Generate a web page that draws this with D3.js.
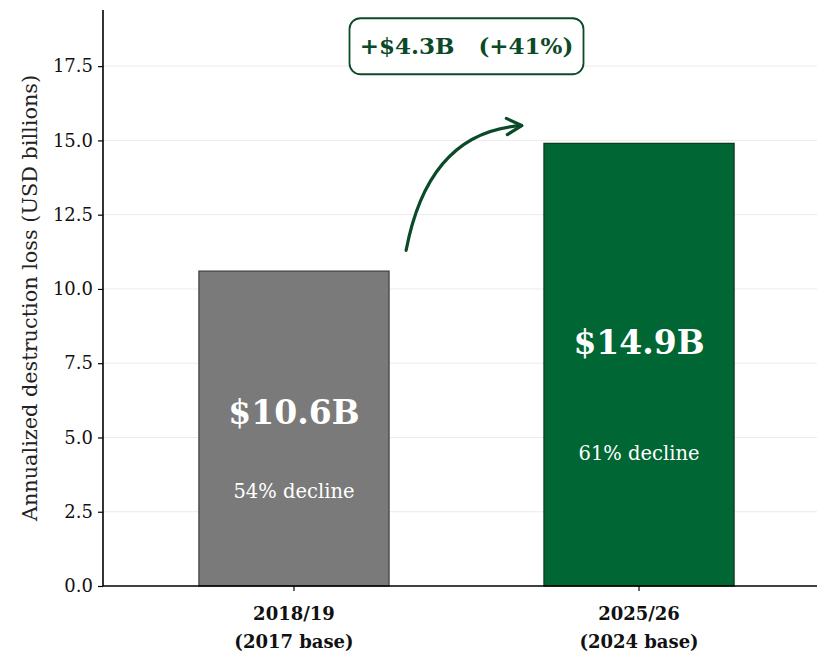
<!DOCTYPE html>
<html lang="en">
<head>
  <meta charset="UTF-8">
  <title>Annualized destruction loss</title>
  <script src="https://d3js.org/d3.v7.min.js"></script>
  <style>
    body { margin: 0; background: #fff; }
    text { font-family: "DejaVu Serif", "Liberation Serif", serif; }
  </style>
</head>
<body>
<script>
  // data
  const periods = ["2018/19", "2025/26"];
  const bases = ["(2017 base)", "(2024 base)"];
  const losses = [10.6, 14.9];
  const valueLabels = ["$10.6B", "$14.9B"];
  const declineLabels = ["54% decline", "61% decline"];
  const yTicks = [0, 2.5, 5, 7.5, 10, 12.5, 15, 17.5];
  const changeLabel = "+$4.3B   (+41%)";

  const width = 817, height = 653;
  const margin = { top: 10, right: -13, bottom: 67, left: 103 };

  const svg = d3.select("body").append("svg")
    .attr("width", width)
    .attr("height", height);

  const x = d3.scaleBand()
    .domain(periods)
    .range([margin.left, width - margin.right])
    .paddingInner(0.449)
    .paddingOuter(0.278);

  // index scale for annotations placed between the bars
  const xi = d3.scaleLinear()
    .domain([0, 1])
    .range([x(periods[0]) + x.bandwidth() / 2, x(periods[1]) + x.bandwidth() / 2]);

  const y = d3.scaleLinear()
    .domain([0, 19.39])
    .range([height - margin.bottom, margin.top]);

  // gridlines
  svg.append("g")
    .selectAll("line")
    .data(yTicks.slice(1))
    .enter().append("line")
    .attr("x1", margin.left)
    .attr("x2", width)
    .attr("y1", d => y(d))
    .attr("y2", d => y(d))
    .style("stroke", "#ebebeb")
    .style("stroke-width", 1);

  // bars
  svg.selectAll("rect.bar")
    .data(losses)
    .enter().append("rect")
    .attr("class", "bar")
    .attr("x", (d, i) => x(periods[i]))
    .attr("y", d => y(d))
    .attr("width", x.bandwidth())
    .attr("height", d => y(0) - y(d))
    .style("fill", (d, i) => i === 0 ? "#7a7a7a" : "#006633")
    .style("stroke", (d, i) => i === 0 ? "#444444" : "#0d3d20")
    .style("stroke-width", 1.3);

  // labels inside bars
  svg.selectAll("text.val")
    .data(losses)
    .enter().append("text")
    .attr("class", "val")
    .attr("x", (d, i) => x(periods[i]) + x.bandwidth() / 2)
    .attr("y", d => y(d * 0.55))
    .attr("dy", "0.35em")
    .attr("text-anchor", "middle")
    .style("font-size", "33px")
    .style("font-weight", "bold")
    .style("fill", "#fff")
    .text((d, i) => valueLabels[i]);

  svg.selectAll("text.dec")
    .data(losses)
    .enter().append("text")
    .attr("class", "dec")
    .attr("x", (d, i) => x(periods[i]) + x.bandwidth() / 2)
    .attr("y", d => y(d * 0.3))
    .attr("dy", "0.35em")
    .attr("text-anchor", "middle")
    .style("font-size", "19.5px")
    .style("fill", "#fff")
    .text((d, i) => declineLabels[i]);

  // axes
  const yAxis = svg.append("g")
    .attr("transform", `translate(${margin.left},0)`)
    .call(d3.axisLeft(y).tickValues(yTicks).tickFormat(d3.format(".1f")).tickSize(5).tickSizeOuter(0));
  yAxis.select(".domain").attr("d", `M0,${y(0)}V${margin.top}`).style("stroke-width", 1.6);
  yAxis.selectAll(".tick line").style("stroke-width", 1.2);
  yAxis.selectAll(".tick text")
    .attr("x", -10)
    .style("font-size", "18px")
    .style("font-family", "'DejaVu Serif', serif")
    .style("fill", "#111");

  const xAxis = svg.append("g")
    .attr("transform", `translate(0,${y(0)})`)
    .call(d3.axisBottom(x).tickSize(5).tickSizeOuter(0));
  xAxis.select(".domain").attr("d", `M${margin.left},0H${width}`).style("stroke-width", 1.6);
  xAxis.selectAll(".tick line").style("stroke-width", 1.2);
  xAxis.selectAll(".tick text").remove();

  const catLabels = svg.append("g").selectAll("text")
    .data(periods)
    .enter().append("text")
    .attr("x", d => x(d) + x.bandwidth() / 2)
    .attr("y", y(0) + 34)
    .attr("text-anchor", "middle")
    .style("font-size", "18px")
    .style("font-weight", "bold")
    .style("fill", "#111");
  catLabels.append("tspan").text(d => d);
  catLabels.append("tspan")
    .attr("x", d => x(d) + x.bandwidth() / 2)
    .attr("dy", 28)
    .text((d, i) => bases[i]);

  // y label
  svg.append("text")
    .attr("transform", `translate(30,${(y(0) + margin.top) / 2}) rotate(-90)`)
    .attr("text-anchor", "middle")
    .attr("dy", "0.35em")
    .style("font-size", "20.8px")
    .style("fill", "#222")
    .text("Annualized destruction loss (USD billions)");

  // arrow
  const arrowColor = "#0b4a28";
  const p0 = [xi(0.325), y(11.3)];
  const p1 = [xi(0.66), y(15.5)];
  const ctrl = [xi(0.39), y(15.3)];
  svg.append("path")
    .attr("d", `M${p0[0]},${p0[1]} Q${ctrl[0]},${ctrl[1]} ${p1[0]},${p1[1]}`)
    .style("fill", "none")
    .style("stroke", arrowColor)
    .style("stroke-width", 3.2)
    .style("stroke-linecap", "round");
  // arrow head (open chevron) along end tangent
  const ang = Math.atan2(p1[1] - ctrl[1], p1[0] - ctrl[0]);
  const hl = 17, ha = 0.5;
  const h1 = [p1[0] - hl * Math.cos(ang - ha), p1[1] - hl * Math.sin(ang - ha)];
  const h2 = [p1[0] - hl * Math.cos(ang + ha), p1[1] - hl * Math.sin(ang + ha)];
  svg.append("path")
    .attr("d", `M${h1[0]},${h1[1]} L${p1[0]},${p1[1]} L${h2[0]},${h2[1]}`)
    .style("fill", "none")
    .style("stroke", arrowColor)
    .style("stroke-width", 3.2)
    .style("stroke-linecap", "round")
    .style("stroke-linejoin", "round");

  // change box
  const bx = xi(0.5), by = y(18.17);
  svg.append("rect")
    .attr("x", bx - 117)
    .attr("y", by - 28)
    .attr("width", 234)
    .attr("height", 56)
    .attr("rx", 11)
    .style("fill", "#fff")
    .style("stroke", arrowColor)
    .style("stroke-width", 1.8);
  svg.append("text")
    .attr("x", bx)
    .attr("y", by)
    .attr("dy", "0.35em")
    .attr("text-anchor", "middle")
    .style("font-size", "23px")
    .style("font-weight", "bold")
    .style("fill", arrowColor)
    .style("white-space", "pre")
    .attr("xml:space", "preserve")
    .text(changeLabel);
</script>
</body>
</html>
